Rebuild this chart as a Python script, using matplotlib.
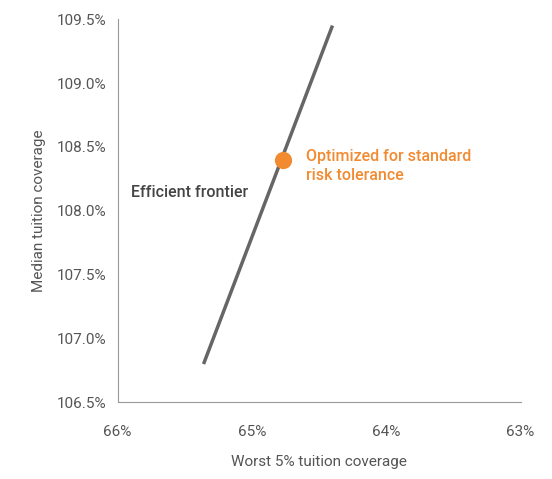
import matplotlib
matplotlib.use("Agg")
import matplotlib.pyplot as plt
from matplotlib.ticker import FuncFormatter

plt.rcParams["font.family"] = ["Roboto", "DejaVu Sans"]

# efficient frontier endpoints (worst 5%, median)
frontier_x = [65.36, 64.40]
frontier_y = [106.80, 109.45]
opt_x = [64.77]
opt_y = [108.40]

fig = plt.figure(figsize=(5.52, 4.79), dpi=100)
ax = fig.add_axes([0.213, 0.16, 0.73, 0.80])

ax.plot(frontier_x, frontier_y, color="#666666", linewidth=2.5, solid_capstyle="butt")
ax.scatter(opt_x, opt_y, s=130, color="#F28A30", zorder=3)
ax.text(64.60, 108.35, "Optimized for standard\nrisk tolerance", color="#F28A30",
        fontsize=11.5, fontweight="medium", va="center", ha="left", linespacing=1.4)
ax.text(65.9, 108.14, "Efficient frontier", color="#444444", fontsize=11.5,
        fontweight="medium", va="center", ha="left")

ax.set_xlim(66, 63)
ax.set_ylim(106.5, 109.5)
ax.set_xticks([66, 65, 64, 63])
ax.set_yticks([106.5, 107.0, 107.5, 108.0, 108.5, 109.0, 109.5])
ax.xaxis.set_major_formatter(FuncFormatter(lambda v, p: f"{v:.0f}%"))
ax.yaxis.set_major_formatter(FuncFormatter(lambda v, p: f"{v:.1f}%"))
ax.tick_params(axis="y", length=0, labelsize=11, colors="#555555", pad=8)
ax.tick_params(axis="x", length=0, labelsize=11, colors="#555555", pad=16)
for s in ["top", "right"]:
    ax.spines[s].set_visible(False)
for s in ["left", "bottom"]:
    ax.spines[s].set_color("#999999")
ax.set_xlabel("Worst 5% tuition coverage", fontsize=11, color="#555555", labelpad=12)
ax.set_ylabel("Median tuition coverage", fontsize=11, color="#555555", labelpad=8)

fig.savefig("out.png", dpi=100)
